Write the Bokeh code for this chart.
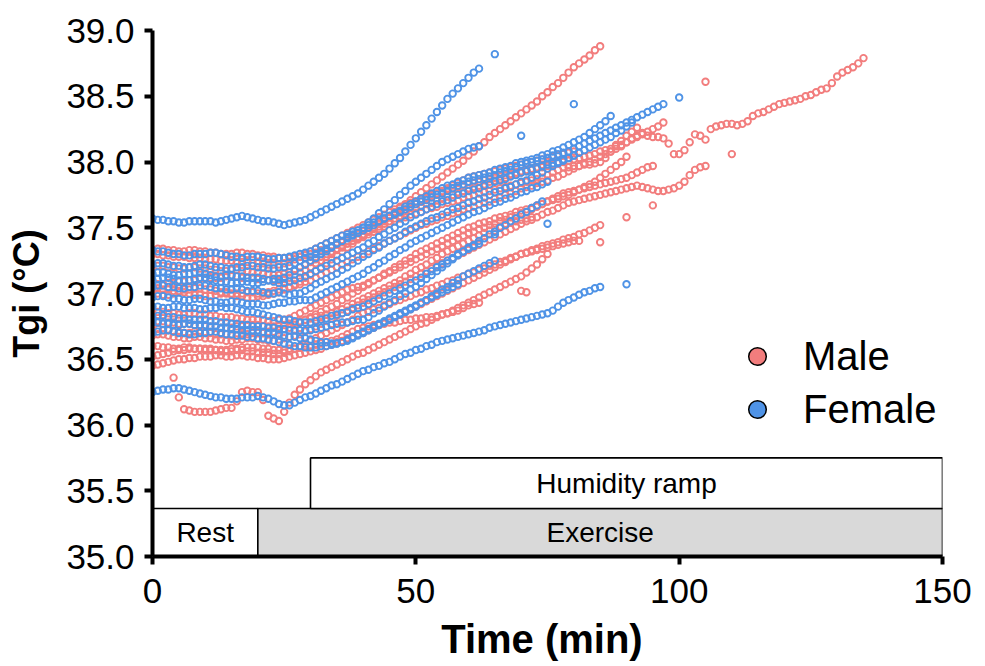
from bokeh.plotting import figure
from bokeh.models import FixedTicker, Legend, LegendItem
from bokeh.core.properties import value
from bokeh.embed import file_html
from bokeh.resources import INLINE

# ---------------- data ----------------
STEP = 1.0  # minutes between successive readings in a trace

# Female traces (Tgi values every minute)
f01 = [37.57,37.56,37.56,37.55,37.55,37.54,37.54,37.55,37.55,37.55,
       37.55,37.55,37.54,37.55,37.56,37.57,37.58,37.59,37.58,37.57,
       37.56,37.55,37.55,37.54,37.53,37.52,37.53,37.54,37.55,37.56,
       37.58,37.60,37.62,37.64,37.66,37.68,37.70,37.72,37.74,37.76,
       37.79,37.82,37.85,37.88,37.91,37.95,37.99,38.03,38.08,38.13,
       38.18,38.23,38.28,38.33,38.38,38.43,38.48,38.52,38.56,38.60,
       38.64,38.68,38.71]
f02 = [36.25,36.26,36.27,36.27,36.28,36.28,36.27,36.26,36.25,36.24,
       36.23,36.22,36.21,36.21,36.20,36.20,36.20,36.21,36.21,36.21,
       36.22,36.21,36.20,36.18,36.16,36.15,36.15,36.17,36.19,36.21,
       36.22,36.24,36.26,36.28,36.30,36.31,36.33,36.35,36.37,36.39,
       36.41,36.42,36.44,36.45,36.47,36.48,36.50,36.52,36.54,36.55,
       36.57,36.58,36.60,36.61,36.63,36.64,36.65,36.66,36.67,36.68,
       36.69,36.70,36.71,36.72,36.74,36.75,36.76,36.77,36.78,36.79,
       36.80,36.81,36.82,36.83,36.84,36.85,36.87,36.90,36.93,36.95,
       36.97,36.99,37.01,37.02,37.04,37.05]
f03 = [37.33,37.32,37.32,37.31,37.30,37.30,37.29,37.29,37.30,37.30,
       37.30,37.31,37.31,37.30,37.29,37.28,37.28,37.27,37.28,37.28,
       37.28,37.27,37.26,37.26,37.27,37.27,37.28,37.29,37.30,37.31,
       37.32,37.34,37.36,37.38,37.40,37.42,37.44,37.45,37.47,37.48,
       37.50,37.52,37.54,37.55,37.57,37.59,37.60,37.62,37.64,37.66,
       37.68,37.70,37.71,37.73,37.75,37.76,37.78,37.80,37.82,37.83,
       37.85,37.86,37.87,37.88,37.89,37.90,37.92,37.93,37.94,37.96,
       37.98,37.99,38.00,38.01,38.02,38.03,38.05,38.06,38.07,38.08,
       38.10,38.12,38.14,38.16,38.18,38.20,38.22,38.24,38.26,38.28,
       38.30,38.32,38.34,38.36,38.38,38.40,38.42,38.44]
f04 = [37.15,37.16,37.16,37.15,37.14,37.14,37.15,37.15,37.16,37.16,
       37.15,37.14,37.13,37.13,37.14,37.14,37.13,37.13,37.12,37.12,
       37.12,37.11,37.10,37.09,37.08,37.08,37.09,37.10,37.12,37.13,
       37.15,37.17,37.19,37.21,37.23,37.25,37.27,37.29,37.31,37.33,
       37.35,37.38,37.40,37.43,37.45,37.48,37.50,37.53,37.55,37.58,
       37.60,37.62,37.64,37.66,37.68,37.70,37.71,37.73,37.75,37.76,
       37.78,37.79,37.80,37.82,37.83,37.85,37.86,37.87,37.89,37.90,
       37.92,37.93,37.94,37.95,37.97,37.98,37.99,38.00,38.02,38.03,
       38.05,38.07,38.09,38.11,38.13,38.15,38.17,38.19,38.22,38.24,
       38.27,38.30]
f05 = [37.22,37.23,37.23,37.22,37.21,37.21,37.20,37.20,37.21,37.22,
       37.22,37.21,37.20,37.20,37.19,37.19,37.20,37.20,37.21,37.21,
       37.20,37.20,37.19,37.19,37.20,37.20,37.21,37.23,37.25,37.27,
       37.28,37.30,37.32,37.34,37.36,37.38,37.40,37.42,37.44,37.46,
       37.48,37.50,37.52,37.55,37.57,37.59,37.61,37.63,37.66,37.68,
       37.70,37.72,37.74,37.76,37.78,37.80,37.82,37.83,37.85,37.86,
       37.88,37.89,37.90,37.91,37.92,37.94,37.95,37.96,37.97,37.99,
       38.00,38.01,38.02,38.03,38.05,38.06,38.08,38.09,38.11,38.13,
       38.15,38.17,38.19,38.22,38.25,38.28,38.31,38.35]
f06 = [37.05,37.06,37.06,37.05,37.05,37.04,37.04,37.05,37.05,37.06,
       37.06,37.05,37.04,37.04,37.03,37.03,37.04,37.03,37.02,37.02,
       37.02,37.01,37.00,37.00,37.01,37.00,36.99,37.00,37.00,37.02,
       37.04,37.07,37.09,37.11,37.13,37.15,37.18,37.20,37.23,37.25,
       37.28,37.30,37.33,37.35,37.38,37.40,37.42,37.44,37.47,37.49,
       37.51,37.53,37.55,37.57,37.58,37.60,37.62,37.64,37.65,37.67,
       37.69,37.70,37.72,37.73,37.75,37.77,37.78,37.80,37.81,37.83,
       37.85,37.86,37.88,37.90,37.92,37.95,37.97,37.99,38.01,38.03,
       38.05]
f07 = [37.10,37.11,37.12,37.12,37.11,37.10,37.10,37.10,37.11,37.12,
       37.12,37.11,37.10,37.09,37.09,37.08,37.08,37.09,37.09,37.08,
       37.08,37.09,37.10,37.11,37.11,37.12,37.14,37.17,37.20,37.22,
       37.25,37.27,37.30,37.32,37.35,37.38,37.40,37.43,37.45,37.48,
       37.50,37.54,37.57,37.61,37.64,37.68,37.71,37.75,37.78,37.82,
       37.85,37.88,37.91,37.94,37.97,38.00,38.02,38.04,38.06,38.08,
       38.10,38.11,38.12]
f08 = [36.97,36.98,36.98,36.97,36.96,36.96,36.95,36.95,36.96,36.96,
       36.95,36.94,36.94,36.93,36.93,36.94,36.94,36.93,36.92,36.92,
       36.92,36.91,36.91,36.92,36.93,36.93,36.94,36.94,36.95,36.95,
       36.95,36.97,36.99,37.01,37.03,37.05,37.07,37.09,37.11,37.13,
       37.15,37.18,37.20,37.23,37.25,37.28,37.30,37.33,37.35,37.38,
       37.40,37.42,37.44,37.46,37.48,37.50,37.52,37.54,37.56,37.58,
       37.60,37.62,37.63,37.65,37.67,37.69,37.70,37.72,37.73,37.75,
       37.77,37.78,37.80,37.81,37.83,37.85]
f09 = [36.90,36.90,36.89,36.89,36.90,36.90,36.89,36.89,36.89,36.88,
       36.88,36.89,36.89,36.90,36.89,36.89,36.88,36.87,36.86,36.86,
       36.85,36.84,36.83,36.82,36.81,36.80,36.80,36.79,36.78,36.78,
       36.78,36.79,36.80,36.81,36.83,36.84,36.85,36.86,36.88,36.89,
       36.90,36.92,36.94,36.96,36.98,37.00,37.02,37.04,37.06,37.08,
       37.10,37.12,37.15,37.17,37.20,37.22,37.25,37.27,37.30,37.32,
       37.34,37.36,37.38]
f10 = [36.82,36.83,36.83,36.82,36.82,36.81,36.81,36.80,36.80,36.80,
       36.80,36.79,36.79,36.78,36.78,36.77,36.77,36.76,36.76,36.75,
       36.75,36.75,36.74,36.74,36.73,36.73,36.72,36.72,36.72,36.72,
       36.72,36.73,36.74,36.75,36.76,36.77,36.78,36.78,36.79,36.80,
       36.80,36.82,36.85,36.87,36.90,36.93,36.95,36.98,37.00,37.03,
       37.05,37.08,37.11,37.14,37.17,37.20,37.23,37.26,37.29,37.32,
       37.35,37.37,37.40,37.42,37.45,37.47,37.50,37.52,37.55,37.57,
       37.60,37.62,37.65,37.67,37.70]
f11 = [36.78,36.78,36.77,36.77,36.76,36.76,36.77,36.77,36.76,36.76,
       36.76,36.75,36.75,36.74,36.74,36.73,36.73,36.72,36.72,36.72,
       36.72,36.71,36.70,36.70,36.69,36.68,36.67,36.67,36.66,36.66,
       36.65,36.64,36.63,36.63,36.62,36.62,36.63,36.64,36.66,36.68,
       36.70,36.72,36.74,36.76,36.78,36.80,36.82,36.84,36.86,36.88,
       36.90,36.93,36.95,36.98,37.00,37.03,37.05,37.08,37.10,37.13,
       37.15,37.17,37.19,37.21,37.23,37.25]
f12 = [36.70,36.71,36.72,36.72,36.71,36.70,36.70,36.69,36.69,36.70,
       36.70,36.71,36.71,36.70,36.69,36.69,36.68,36.68,36.67,36.67,
       36.66,36.66,36.65,36.64,36.63,36.62,36.61,36.60,36.60,36.59,
       36.59,36.59,36.60,36.60,36.61,36.62,36.63,36.65,36.67,36.69,
       36.71,36.73,36.75,36.77,36.79,36.81,36.83,36.85,36.87,36.89,
       36.91,36.93,36.95,36.97,36.99,37.01,37.03,37.05,37.07]
female_traces = [f01, f02, f03, f04, f05, f06, f07, f08, f09, f10, f11, f12]
female_starts = [0, 0, 0, 0, 0, 0, 0, 0, 0, 0, 0, 0]
female_single_t = [65, 90, 100, 80, 75, 65, 70]
female_single_v = [38.82, 37.07, 38.49, 38.44, 37.53, 37.45, 38.20]

# Male traces
m01 = [37.05,37.04,37.03,37.03,37.02,37.02,37.03,37.03,37.04,37.04,
       37.03,37.03,37.02,37.01,37.01,37.00,37.00,37.00,37.01,37.01,
       37.00,37.00,37.01,37.02,37.03,37.04,37.05,37.06,37.07,37.09,
       37.10,37.12,37.14,37.16,37.18,37.20,37.22,37.24,37.26,37.28,
       37.30,37.32,37.34,37.36,37.38,37.40,37.42,37.44,37.46,37.48,
       37.50,37.52,37.53,37.55,37.56,37.58,37.59,37.61,37.62,37.64,
       37.65,37.66,37.68,37.69,37.70,37.72,37.73,37.75,37.76,37.78,
       37.80,37.81,37.82,37.84,37.85,37.86,37.88,37.89,37.91,37.93,
       37.95,37.97,37.99,38.00,38.02,38.04,38.06,38.08,38.10,38.12,
       38.15,38.18,38.20,38.22,38.20,38.19,38.19,38.18,38.14,38.06,
       38.06,38.09,38.15,38.21,38.20,38.17,38.25,38.27,38.28,38.29,
       38.29,38.28,38.29,38.31,38.35,38.37,38.38,38.40,38.42,38.44,
       38.45,38.46,38.47,38.48,38.50,38.51,38.53,38.55,38.56,38.60,
       38.65,38.68,38.70,38.72,38.75,38.79]
m02 = [37.00,37.00,36.99,36.99,37.00,37.01,37.01,37.00,36.99,36.99,
       36.98,36.98,36.99,37.00,37.00,36.99,36.98,36.98,36.97,36.97,
       36.98,36.98,36.99,37.00,37.01,37.03,37.05,37.07,37.09,37.12,
       37.14,37.17,37.20,37.23,37.26,37.29,37.32,37.35,37.38,37.41,
       37.44,37.47,37.50,37.53,37.56,37.59,37.62,37.65,37.68,37.71,
       37.74,37.77,37.80,37.83,37.86,37.89,37.92,37.95,37.98,38.01,
       38.05,38.08,38.12,38.15,38.19,38.22,38.25,38.28,38.31,38.34,
       38.37,38.40,38.43,38.46,38.50,38.53,38.57,38.60,38.64,38.68,
       38.72,38.75,38.78,38.81,38.85,38.88]
m03 = [36.68,36.69,36.69,36.68,36.67,36.67,36.66,36.66,36.67,36.67,
       36.66,36.66,36.65,36.65,36.64,36.64,36.65,36.65,36.66,36.66,
       36.65,36.65,36.64,36.64,36.65,36.66,36.67,36.68,36.69,36.71,
       36.73,36.75,36.77,36.79,36.81,36.83,36.85,36.87,36.89,36.91,
       36.93,36.95,36.97,36.99,37.01,37.03,37.05,37.07,37.09,37.11,
       37.13,37.15,37.17,37.19,37.21,37.23,37.25,37.27,37.29,37.31,
       37.33,37.35,37.37,37.39,37.41,37.43,37.45,37.47,37.49,37.51,
       37.53,37.55,37.56,37.58,37.60,37.62,37.63,37.65,37.67,37.69,
       37.70,37.71,37.72,37.73,37.74,37.75,37.76,37.77,37.78,37.79,
       37.80,37.81,37.82,37.81,37.80,37.79,37.78,37.78,37.79,37.80,
       37.82,37.85,37.90,37.94,37.96,37.97]
m04 = [37.33,37.34,37.34,37.33,37.33,37.32,37.32,37.33,37.33,37.32,
       37.32,37.31,37.31,37.30,37.30,37.30,37.31,37.31,37.30,37.30,
       37.29,37.29,37.28,37.28,37.27,37.27,37.27,37.28,37.28,37.29,
       37.30,37.31,37.33,37.34,37.36,37.37,37.39,37.40,37.42,37.43,
       37.45,37.47,37.49,37.51,37.53,37.55,37.57,37.59,37.61,37.63,
       37.65,37.66,37.68,37.69,37.71,37.72,37.74,37.75,37.77,37.78,
       37.80,37.81,37.82,37.83,37.85,37.86,37.87,37.88,37.90,37.91,
       37.92,37.93,37.94,37.95,37.96,37.97,37.98,37.99,38.00,38.01,
       38.02,38.03,38.04,38.05,38.06,38.08,38.09,38.10,38.12,38.13,
       38.15,38.17,38.19,38.21,38.23,38.25,38.27,38.30]
m05 = [36.45,36.46,36.47,36.48,36.49,36.50,36.50,36.51,36.51,36.52,
       36.52,36.52,36.53,36.53,36.52,36.52,36.53,36.53,36.52,36.52,
       36.51,36.51,36.50,36.50,36.50,36.51,36.52,36.53,36.54,36.55,
       36.56,36.57,36.58,36.60,36.61,36.63,36.64,36.66,36.67,36.69,
       36.70,36.72,36.74,36.76,36.78,36.80,36.82,36.84,36.86,36.88,
       36.90,36.92,36.94,36.96,36.98,37.00,37.02,37.04,37.06,37.08,
       37.10,37.12,37.14,37.16,37.18,37.20,37.22,37.24,37.26,37.28,
       37.30,37.31,37.33,37.34,37.36,37.37,37.38,37.39,37.41,37.42,
       37.43,37.45,37.46,37.48,37.50,37.52]
m06 = [36.87,36.86,36.86,36.85,36.85,36.84,36.84,36.85,36.85,36.84,
       36.84,36.83,36.83,36.82,36.82,36.82,36.81,36.81,36.80,36.80,
       36.80,36.80,36.79,36.79,36.80,36.80,36.81,36.83,36.85,36.87,
       36.89,36.91,36.93,36.95,36.97,36.99,37.01,37.03,37.04,37.05,
       37.06,37.08,37.10,37.12,37.14,37.16,37.18,37.20,37.22,37.24,
       37.26,37.28,37.30,37.32,37.34,37.36,37.38,37.40,37.42,37.44,
       37.46,37.47,37.49,37.50,37.52,37.53,37.55,37.56,37.58,37.59,
       37.61,37.62,37.64,37.66,37.68,37.70,37.72,37.74,37.76,37.77,
       37.78,37.79,37.80,37.81,37.82,37.83,37.84,37.85,37.86,37.87,
       37.88,37.90,37.92,37.94,37.96,37.97]
m07 = [37.20,37.21,37.21,37.20,37.20,37.19,37.19,37.20,37.20,37.19,
       37.19,37.18,37.18,37.17,37.17,37.18,37.18,37.17,37.17,37.16,
       37.16,37.15,37.15,37.14,37.14,37.15,37.16,37.18,37.20,37.22,
       37.24,37.26,37.28,37.30,37.32,37.34,37.36,37.38,37.40,37.42,
       37.43,37.45,37.47,37.49,37.51,37.53,37.55,37.57,37.58,37.60,
       37.61,37.62,37.64,37.65,37.66,37.68,37.69,37.70,37.71,37.73,
       37.74,37.75,37.76,37.77,37.78,37.79,37.80,37.81,37.82,37.83,
       37.84,37.85,37.86,37.87,37.88,37.90,37.92,37.94,37.96,37.96,
       37.97,37.97,37.98,37.98,37.99,38.00,38.03,38.08,38.13,38.16,
       38.20,38.23,38.26]
m08 = [36.60,36.60,36.59,36.59,36.58,36.58,36.59,36.59,36.58,36.58,
       36.57,36.57,36.57,36.56,36.56,36.56,36.57,36.57,36.56,36.56,
       36.55,36.55,36.55,36.54,36.54,36.55,36.56,36.58,36.60,36.62,
       36.64,36.66,36.68,36.70,36.72,36.74,36.76,36.78,36.80,36.83,
       36.85,36.86,36.88,36.89,36.91,36.92,36.94,36.95,36.97,36.98,
       37.00,37.01,37.03,37.04,37.06,37.07,37.09,37.10,37.12,37.13,
       37.15,37.16,37.18,37.19,37.21,37.22,37.24,37.25,37.27,37.28,
       37.30,37.31,37.32,37.33,37.34,37.35,37.36,37.37,37.38,37.39,
       37.40,37.40]
m09 = [36.36,36.21,36.12,36.11,36.10,36.10,
       36.10,36.10,36.11,36.12,36.13,36.13,36.18,36.25,36.26,36.25,
       36.25,36.19,36.07,36.05,36.03,36.10,36.17,36.23,36.27,36.31,
       36.34,36.37,36.40,36.42,36.44,36.46,36.48,36.50,36.52,36.54,
       36.55,36.57,36.59,36.61,36.63,36.65,36.67,36.69,36.71,36.73,
       36.75,36.77,36.78,36.80,36.82,36.84,36.85,36.87,36.89,36.91,
       36.93,36.95,36.97,36.99,37.01,37.03,37.05,37.07,37.09,37.11,
       37.13,37.16,37.19,37.22,37.26,37.30]
m10 = [37.30,37.30,37.29,37.29,37.28,37.28,37.28,37.27,37.27,37.27,
       37.26,37.26,37.26,37.25,37.25,37.25,37.24,37.24,37.24,37.23,
       37.23,37.23,37.22,37.22,37.22,37.23,37.24,37.26,37.28,37.30,
       37.32,37.34,37.36,37.38,37.40,37.42,37.44,37.46,37.48,37.50,
       37.52,37.54,37.56,37.58,37.60,37.62,37.64,37.66,37.67,37.69,
       37.70,37.72,37.73,37.75,37.76,37.77,37.79,37.80,37.81,37.82,
       37.83,37.84,37.85,37.86,37.87,37.88,37.89,37.90,37.91,37.92,
       37.93,37.94,37.95,37.96,37.98,38.00]
m11 = [36.80,36.79,36.79,36.78,36.78,36.77,36.77,36.77,36.76,36.76,
       36.75,36.75,36.75,36.74,36.74,36.74,36.75,36.75,36.76,36.76,
       36.76,36.75,36.75,36.75,36.75,36.76,36.77,36.78,36.79,36.80,
       36.81,36.82,36.83,36.84,36.85,36.86,36.88,36.90,36.92,36.94,
       36.96,36.98,37.00,37.02,37.04,37.06,37.08,37.10,37.13,37.15,
       37.18,37.20,37.22,37.25,37.27,37.30,37.32,37.34,37.36,37.38,
       37.40,37.42,37.44,37.46,37.48,37.50,37.51,37.53,37.54,37.55,
       37.56,37.57,37.58]
m12 = [36.52,36.53,36.54,36.55,36.56,36.57,36.57,36.58,36.58,36.58,
       36.58,36.58,36.57,36.57,36.57,36.58,36.58,36.59,36.59,36.59,
       36.59,36.58,36.58,36.57,36.57,36.57,36.58,36.58,36.59,36.60,
       36.60,36.61,36.62,36.63,36.64,36.65,36.67,36.69,36.71,36.73,
       36.74,36.75,36.76,36.76,36.77,36.78,36.78,36.79,36.80,36.80,
       36.81,36.81,36.82,36.82,36.83,36.84,36.85,36.86,36.87,36.89,
       36.91,36.92,36.93]
m13 = [36.74,36.73,36.72,36.72,36.71,36.71,36.70,36.70,36.71,36.71,
       36.70,36.70,36.69,36.69,36.69,36.68,36.68,36.69,36.69,36.70,
       36.70,36.70,36.71,36.71,36.72,36.73,36.74,36.76,36.78,36.80,
       36.82,36.84,36.86,36.88,36.90,36.92,36.95,36.97,37.00,37.02,
       37.05,37.07,37.10,37.12,37.15,37.17,37.20,37.22,37.25,37.27,
       37.30,37.32,37.34,37.36,37.38,37.40,37.42,37.44,37.46,37.48,
       37.50,37.51,37.53,37.54,37.55,37.57,37.58,37.59,37.60,37.62,
       37.63,37.64,37.65,37.67,37.68,37.70,37.71,37.72,37.74,37.75,
       37.77,37.79,37.81,37.83,37.85,37.88,37.91,37.94,37.97,38.00,
       38.04]
m14 = [37.06,37.07,37.07,37.08,37.08,37.09,37.09,37.10,37.10,37.11,
       37.11,37.12,37.12,37.12,37.13,37.13,37.13,37.12,37.12,37.12,
       37.11,37.11,37.10,37.10,37.10,37.11,37.12,37.14,37.16,37.18,
       37.20,37.23,37.25,37.28,37.30,37.33,37.35,37.38,37.40,37.43,
       37.45,37.48,37.50,37.53,37.55,37.58,37.60,37.62,37.64,37.66,
       37.68,37.70,37.72,37.74,37.76,37.78,37.80,37.82,37.84,37.86,
       37.88,37.89,37.90,37.91,37.92,37.93,37.94,37.95,37.96,37.97,
       37.98,37.99,38.00,38.01,38.02,38.03,38.04,38.05,38.06,38.07,
       38.08]
male_traces = [m01, m02, m03, m04, m05, m06, m07, m08, m09, m10, m11, m12, m13, m14]
male_starts = [0, 0, 0, 0, 0, 0, 0, 0, 4, 0, 0, 0, 0, 0]
male_single_t = [105, 110, 95, 90, 85, 70, 71]
male_single_v = [38.61, 38.06, 37.67, 37.58, 37.39, 37.02, 37.01]

# Phase boxes
phase_names = ["Rest", "Exercise", "Humidity ramp"]
phase_start = [0, 20, 30]
phase_end = [20, 150, 150]
phase_low = [35.0, 35.0, 35.365]
phase_high = [35.365, 35.365, 35.75]
phase_fill = ["white", "#D9D9D9", "white"]

x_ticks = [0, 50, 100, 150]
y_ticks = [35.0, 35.5, 36.0, 36.5, 37.0, 37.5, 38.0, 38.5, 39.0]
y_tick_labels = ["35.0", "35.5", "36.0", "36.5", "37.0", "37.5", "38.0", "38.5", "39.0"]

MALE_COLOR = "#F27D7D"
FEMALE_COLOR = "#4F93E6"
FONT = "Liberation Sans"
NAN = float("nan")


def flatten(starts, traces, single_t, single_v):
    xs, ys = [], []
    for s, vals in zip(starts, traces):
        for i, v in enumerate(vals):
            xs.append(s + i * STEP)
            ys.append(v)
    xs.extend(single_t)
    ys.extend(single_v)
    return xs, ys


mx, my = flatten(male_starts, male_traces, male_single_t, male_single_v)
fx, fy = flatten(female_starts, female_traces, female_single_t, female_single_v)

# ---------------- figure ----------------
p = figure(width=985, height=666, x_range=(0, 150), y_range=(35, 39),
           output_backend="svg", toolbar_location=None,
           min_border_left=152, min_border_right=43,
           min_border_top=30, min_border_bottom=110)
p.outline_line_color = None
p.xgrid.visible = False
p.ygrid.visible = False
p.background_fill_color = "white"

# phase boxes
p.quad(left=phase_start, right=phase_end, bottom=phase_low, top=phase_high,
       fill_color=phase_fill, line_color="black", line_width=1.6)
p.text(x=[(a + b) / 2 for a, b in zip(phase_start, phase_end)],
       y=[(a + b) / 2 for a, b in zip(phase_low, phase_high)],
       text=phase_names, text_align="center", text_baseline="middle",
       text_font=value(FONT), text_font_size="28px", text_color="black")

# data points
p.scatter(mx, my, marker="circle", size=6.5, line_color=MALE_COLOR,
          line_width=1.9, fill_alpha=0)
p.scatter(fx, fy, marker="circle", size=6.5, line_color=FEMALE_COLOR,
          line_width=1.9, fill_alpha=0)

# legend (renderers with a single undefined point, used only for the legend swatch)
lm = p.scatter([NAN], [NAN], marker="circle", fill_color=MALE_COLOR,
               line_color="black", line_width=1.5)
lf = p.scatter([NAN], [NAN], marker="circle", fill_color=FEMALE_COLOR,
               line_color="black", line_width=1.5)
legend = Legend(items=[LegendItem(label="Male", renderers=[lm]),
                       LegendItem(label="Female", renderers=[lf])],
                location=(583, 124), orientation="vertical",
                glyph_width=44, glyph_height=46, label_height=46,
                label_standoff=24, spacing=7, padding=0, margin=0,
                label_text_font=FONT, label_text_font_size="40px",
                label_text_color="black",
                background_fill_alpha=0, border_line_alpha=0)
p.add_layout(legend)

# axes
for ax in (p.xaxis, p.yaxis):
    ax.axis_line_width = 4
    ax.axis_line_color = "black"
    ax.major_tick_line_width = 4
    ax.major_tick_line_color = "black"
    ax.major_tick_out = 8
    ax.major_tick_in = 0
    ax.minor_tick_line_color = None
    ax.major_label_text_font = FONT
    ax.major_label_text_font_size = "35px"
    ax.major_label_text_color = "black"
    ax.axis_label_text_font = FONT
    ax.axis_label_text_font_style = "bold"
    ax.axis_label_text_color = "black"

p.xaxis.ticker = FixedTicker(ticks=x_ticks)
p.yaxis.ticker = FixedTicker(ticks=y_ticks)
p.yaxis.major_label_overrides = {t: s for t, s in zip(y_ticks, y_tick_labels)}
p.xaxis.axis_label = "Time  (min)"
p.yaxis.axis_label = "Tgi (°C)"
p.xaxis.axis_label_text_font_size = "40px"
p.yaxis.axis_label_text_font_size = "36px"
p.xaxis.major_label_standoff = 14
p.xaxis.axis_label_standoff = 11
p.yaxis.major_label_standoff = 10
p.yaxis.axis_label_standoff = 16

open("out.html", "w").write(file_html(p, INLINE))
